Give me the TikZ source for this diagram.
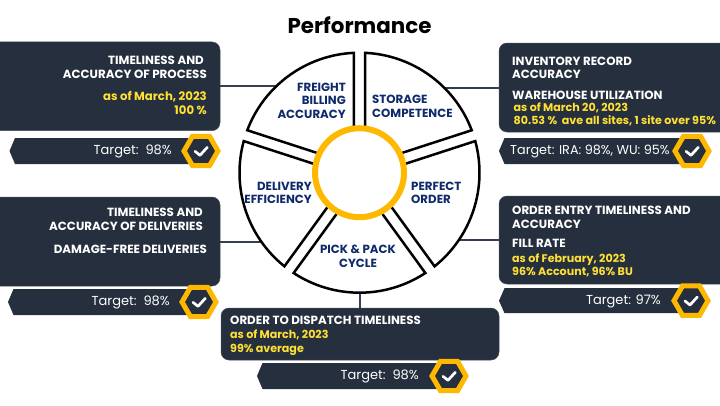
\documentclass[tikz,border=0pt]{standalone}
\usepackage{fontspec}
\setmainfont{Poppins}
\usetikzlibrary{shapes.geometric}
\definecolor{slateb}{HTML}{252F3D}
\definecolor{slateline}{HTML}{333F50}
\definecolor{ringy}{HTML}{FFB800}
\definecolor{texty}{HTML}{FFE135}
\definecolor{navyt}{HTML}{0F2A6B}
\tikzset{
  panel/.style={fill=slateb,draw=slateb!85!white,line width=.5pt,rounded corners=8pt,minimum width=#1,inner sep=0pt},
  link/.style={draw=slateline,line width=2pt},
  sector/.style={draw=black,fill=white,line width=2.5pt,line join=miter},
  hd/.style={text=white,font=\fontsize{11.85}{12}\bfseries,inner sep=0pt,yshift=-1.3pt},
  yl/.style={text=texty,font=\fontsize{11.1}{12}\bfseries,inner sep=0pt,yshift=-1.3pt},
  ylb/.style={text=texty,font=\fontsize{11.7}{12}\bfseries,inner sep=0pt,yshift=-1.3pt},
  whl/.style={text=navyt,font=\fontsize{11.8}{12}\bfseries,inner sep=0pt,yshift=-1.3pt},
  tgt/.style={text=white,font=\fontsize{13}{13}\selectfont,inner sep=0pt,yshift=-1pt},
  banner/.style={fill=slateb,draw=none},
  hexa/.style={regular polygon,regular polygon sides=6,minimum size=34pt,inner sep=0pt,fill=slateb,draw=ringy,line width=5pt},
  tick/.style={draw=white,line width=2.7pt,line cap=round,line join=round}
}
% tip x, centre y, half height, hexagon x, name
\newcommand{\tagbar}[5]{%
  \path[banner] (#1,#2) -- ({#1+5.5},{#2-#3}) -- (#4,{#2-#3}) -- (#4,{#2+#3}) -- ({#1+5.5},{#2+#3}) -- cycle;
  \node[hexa] (#5) at (#4,#2) {};
  \draw[tick] ([shift={(-6pt,-.3pt)}]#5.center) -- ([shift={(-1pt,-4.3pt)}]#5.center) -- ([shift={(6.3pt,3.7pt)}]#5.center);
}
% start angle, end angle of a wheel sector
\newcommand{\wsector}[2]{%
  \path[sector] ({#1+8.2}:40) -- ({#1+2.72}:120) arc[start angle={#1+2.72},end angle={#2-2.72},radius=120] -- ({#2-8.2}:40) -- cycle;
}
\begin{document}
\begin{tikzpicture}[x=1pt,y=-1pt]
\clip (0,0) rectangle (720,405);
\fill[white] (0,0) rectangle (720,405);
\node[font=\fontsize{21.4}{22}\bfseries,text=black,inner sep=0pt] (title) at (359.5,25) {Performance};

% panels
\node[panel=240pt,minimum height=88.7pt] (boxA) at (100,86.3) {};
\node[panel=240pt,minimum height=89pt] (boxB) at (619,87.5) {};
\node[panel=240pt,minimum height=88pt] (boxC) at (619,240) {};
\node[panel=240pt,minimum height=89pt] (boxD) at (100,241.5) {};
\node[panel=278pt,minimum height=52pt] (boxE) at (360,334) {};

% wheel anchor points and connectors
\coordinate (wA) at (300,86.3);
\coordinate (wB) at (420,87.5);
\coordinate (wC) at (420,240);
\coordinate (wD) at (300,241.5);
\coordinate (wE) at (360,250);
\draw[link] (boxA.east) -- (wA);
\draw[link] (boxB.west) -- (wB);
\draw[link] (boxC.west) -- (wC);
\draw[link] (boxD.east) -- (wD);
\draw[link] (boxE.north) -- (wE);

% wheel
\begin{scope}[shift={(359.5pt,-172.7pt)},x=1pt,y=1pt]
  \wsector{90}{162}
  \wsector{18}{90}
  \wsector{-54}{18}
  \wsector{-126}{-54}
  \wsector{162}{234}
  \node[circle,draw=ringy,fill=white,line width=6pt,minimum size=89pt,inner sep=0pt] (hub) at (0,0) {};
\end{scope}

% wheel labels
\node[whl,anchor=mid east] (w1) at (346,87) {FREIGHT};
\node[whl,anchor=mid east] (w2) at (346,100) {BILLING};
\node[whl,anchor=mid east] (w3) at (346,114) {ACCURACY};
\node[whl,anchor=mid west] (w4) at (372,99) {STORAGE};
\node[whl,anchor=mid west] (w5) at (372,113) {COMPETENCE};
\node[whl,anchor=mid west] (w6) at (411,186) {PERFECT};
\node[whl,anchor=mid west] (w7) at (411,199) {ORDER};
\node[whl,anchor=mid east] (w8) at (312,186) {DELIVERY};
\node[whl,anchor=mid east] (w9) at (312,199) {EFFICIENCY};
\node[whl,anchor=mid] (w10) at (358,249) {PICK \& PACK};
\node[whl,anchor=mid] (w11) at (358,263) {CYCLE};

% panel A
\node[hd,anchor=mid east] (a1) at (204,60) {TIMELINESS AND};
\node[hd,anchor=mid east] (a2) at (207,74) {ACCURACY OF PROCESS};
\node[ylb,anchor=mid east] (a3) at (207,96) {as of March, 2023};
\node[ylb,anchor=mid east] (a4) at (207,110) {100 \%};
% panel B
\node[hd,anchor=mid west] (b1) at (512,61) {INVENTORY RECORD};
\node[hd,anchor=mid west] (b2) at (512,74) {ACCURACY};
\node[hd,anchor=mid west] (b3) at (512,95) {WAREHOUSE UTILIZATION};
\node[yl,anchor=mid west] (b4) at (513.5,107) {as of March 20, 2023};
\node[yl,anchor=mid west] (b5) at (513.5,120) {80.53 \%\ \ ave all sites, 1 site over 95\%};
% panel C
\node[hd,anchor=mid west] (c1) at (512,210) {ORDER ENTRY TIMELINESS AND};
\node[hd,anchor=mid west] (c2) at (512,224) {ACCURACY};
\node[hd,anchor=mid west] (c3) at (512,243) {FILL RATE};
\node[yl,anchor=mid west] (c4) at (512,258) {as of February, 2023};
\node[yl,anchor=mid west] (c5) at (512,271) {96\% Account, 96\% BU};
% panel D
\node[hd,anchor=mid east] (d1) at (203,212) {TIMELINESS AND};
\node[hd,anchor=mid east] (d2) at (203,226) {ACCURACY OF DELIVERIES};
\node[hd,anchor=mid east] (d3) at (207,249) {DAMAGE-FREE DELIVERIES};
% panel E
\node[hd,anchor=mid west] (e1) at (230,320) {ORDER TO DISPATCH TIMELINESS};
\node[yl,anchor=mid west] (e2) at (230,334) {as of March, 2023};
\node[yl,anchor=mid west] (e3) at (230,348) {99\% average};

% target bars
\tagbar{9.5}{151}{13}{201}{hexA}
\tagbar{499}{151}{13}{692}{hexB}
\tagbar{499}{300.7}{12.5}{691}{hexC}
\tagbar{8}{302}{13}{199}{hexD}
\tagbar{257}{376}{13}{449}{hexE}
\node[tgt,anchor=mid east] (ta) at (172,151) {Target:\ \ 98\%};
\node[tgt,anchor=mid west,font=\fontsize{12.8}{13}\selectfont] (tb) at (510,151) {Target: IRA: 98\%, WU: 95\%};
\node[tgt,anchor=mid east] (tc) at (661,301) {Target: 97\%};
\node[tgt,anchor=mid east] (td) at (170,302) {Target:\ \ 98\%};
\node[tgt,anchor=mid east] (te) at (419,376) {Target:\ \ 98\%};
\end{tikzpicture}
\end{document}
